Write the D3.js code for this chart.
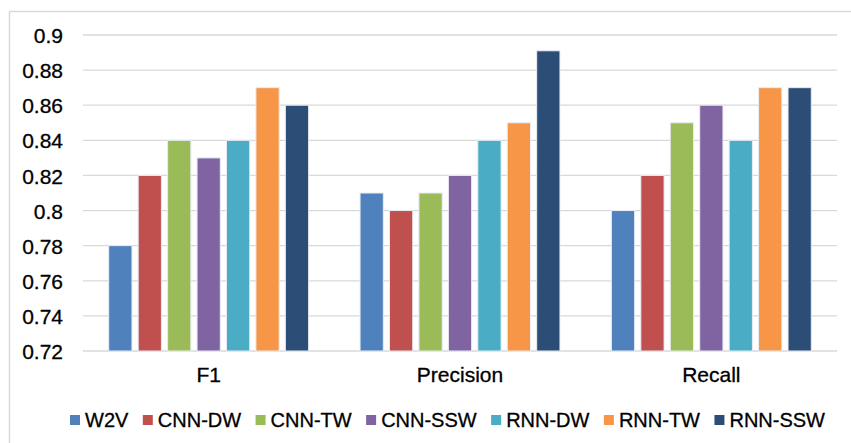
<!DOCTYPE html>
<html>
<head>
<meta charset="utf-8">
<script src="https://cdn.jsdelivr.net/npm/d3@7"></script>
<style>
  html, body { margin: 0; padding: 0; background: #fff; }
  svg { display: block; font-family: "Liberation Sans", Arial, sans-serif; }
  text { stroke: #000; stroke-width: 0.3px; }
</style>
</head>
<body>
<svg id="chart" width="851" height="443"></svg>
<script>
const categories = ["F1", "Precision", "Recall"];
const seriesNames = ["W2V", "CNN-DW", "CNN-TW", "CNN-SSW", "RNN-DW", "RNN-TW", "RNN-SSW"];
const seriesColors = ["#4F81BD", "#C0504D", "#9BBB59", "#8064A2", "#4BACC6", "#F79646", "#2C4D75"];
const W2V     = [0.78, 0.81, 0.80];
const CNN_DW  = [0.82, 0.80, 0.82];
const CNN_TW  = [0.84, 0.81, 0.85];
const CNN_SSW = [0.83, 0.82, 0.86];
const RNN_DW  = [0.84, 0.84, 0.84];
const RNN_TW  = [0.87, 0.85, 0.87];
const RNN_SSW = [0.86, 0.891, 0.87];
const yTicks = [0.72, 0.74, 0.76, 0.78, 0.8, 0.82, 0.84, 0.86, 0.88, 0.9];

const seriesValues = [W2V, CNN_DW, CNN_TW, CNN_SSW, RNN_DW, RNN_TW, RNN_SSW];

(function () {
const svg = d3.select("#chart");
const pLeft = 83, pRight = 837, pTop = 35, pBottom = 351;

// outer border
svg.append("rect")
  .attr("x", 9.5).attr("y", 11.5).attr("width", 900).attr("height", 500)
  .attr("fill", "none").attr("stroke", "#d9d9d9").attr("stroke-width", 1.5);

const y = d3.scaleLinear().domain([0.72, 0.9]).range([pBottom, pTop]);
const x0 = d3.scaleBand().domain(categories).range([pLeft, pRight])
  .paddingInner(0.18).paddingOuter(0.09);
const x1 = d3.scaleBand().domain(seriesNames).range([0, x0.bandwidth()])
  .paddingInner(0.21).paddingOuter(0.105);

// gridlines
svg.append("g").selectAll("line").data(yTicks).join("line")
  .attr("x1", pLeft).attr("x2", pRight)
  .attr("y1", d => y(d)).attr("y2", d => y(d))
  .attr("stroke", "#d9d9d9").attr("stroke-width", 1.3);

// y axis labels
const yAxis = d3.axisLeft(y).tickValues(yTicks).tickFormat(d => String(+d.toFixed(2))).tickSize(0).tickPadding(0);
const ya = svg.append("g").attr("transform", "translate(63,0)").call(yAxis);
ya.select(".domain").remove();
ya.selectAll("text").attr("font-size", 21).attr("fill", "#000")
  .attr("font-family", "Liberation Sans, Arial, sans-serif").attr("dy", "0.36em");

// bars
const groups = svg.append("g").selectAll("g").data(categories).join("g")
  .attr("transform", c => `translate(${x0(c)},0)`);
groups.selectAll("rect")
  .data((c, ci) => seriesNames.map((s, si) => ({ s, si, v: seriesValues[si][ci] })))
  .join("rect")
  .attr("x", d => x1(d.s))
  .attr("width", x1.bandwidth())
  .attr("y", d => y(d.v))
  .attr("height", d => y(0.72) - y(d.v))
  .attr("fill", d => seriesColors[d.si])
  .attr("stroke", "#e8ecf4").attr("stroke-width", 1);

// x axis labels
const xAxis = d3.axisBottom(x0).tickSize(0).tickPadding(0);
const xa = svg.append("g").attr("transform", `translate(0,${pBottom + 16})`).call(xAxis);
xa.select(".domain").remove();
xa.selectAll("text").attr("font-size", 21).attr("fill", "#000")
  .attr("font-family", "Liberation Sans, Arial, sans-serif").attr("dy", "0.71em");

// legend
const legend = svg.append("g");
const items = legend.selectAll("g").data(seriesNames).join("g");
items.append("rect").attr("width", 10).attr("height", 10).attr("y", 415)
  .attr("fill", (d, i) => seriesColors[i]);
items.append("text").text(d => d).attr("y", 427).attr("x", 15)
  .attr("font-size", 20).attr("fill", "#000");
const widths = [];
items.each(function () { widths.push(15 + d3.select(this).select("text").node().getComputedTextLength()); });
const total = d3.sum(widths);
const gap = (825 - 70 - total) / (seriesNames.length - 1);
let cx = 70;
items.each(function (d, i) {
  d3.select(this).attr("transform", `translate(${cx},0)`);
  cx += widths[i] + gap;
});
})();
</script>
</body>
</html>
